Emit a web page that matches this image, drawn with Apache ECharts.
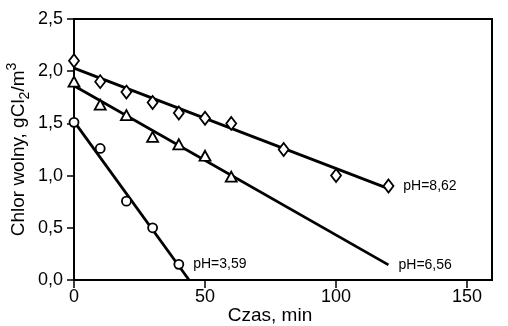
<!DOCTYPE html>
<html><head><meta charset="utf-8">
<script src="https://cdn.jsdelivr.net/npm/echarts@6/dist/echarts.min.js"></script>
<style>html,body{margin:0;padding:0;background:#fff}#c{width:508px;height:326px}</style>
</head><body><div id="c"></div>
<script>
// measured points (time, min ; free chlorine, gCl2/m3)
const ph862 = [[0,2.1],[10,1.9],[20,1.8],[30,1.7],[40,1.6],[50,1.55],[60,1.5],[80,1.25],[100,1.0],[120,0.9]];
const ph656 = [[0,1.9],[10,1.68],[20,1.58],[30,1.37],[40,1.3],[50,1.19],[60,0.99]];
const ph359 = [[0,1.51],[10,1.26],[20,0.755],[30,0.5],[40,0.15]];
// fitted lines (endpoints)
const fit862 = [[0,2.03],[120,0.875]];
const fit656 = [[0,1.86],[120,0.145]];
const fit359 = [[0,1.52],[43.9,0]];
const labels = ['pH=8,62','pH=6,56','pH=3,59'];
const xTicks = [0,50,100,150];
const yTicks = [0,0.5,1.0,1.5,2.0,2.5];

const FONT = 'Liberation Sans, Arial, sans-serif';
const lblStyle = {color:'#000', fontSize:14, fontFamily:FONT, fontWeight:'normal', textBorderWidth:0, textBorderColor:'transparent', textShadowBlur:0, opacity:1};
function lastLabel(arr, text){
  return arr.map((p,i)=> i===arr.length-1 ? {value:p, label:Object.assign({show:true, position:'right', distance:9, formatter:text}, lblStyle)} : {value:p});
}
const chart = echarts.init(document.getElementById('c'), null, {renderer:'canvas'});
const lineStyle = {color:'#000', width:2.8};
const mk = {color:'#fff', borderColor:'#000', borderWidth:1.8, opacity:1};
chart.setOption({
  animation:false,
  backgroundColor:'#fff',
  grid:{left:74, top:19, right:16, bottom:46, show:true, borderColor:'#000', borderWidth:2, backgroundColor:'transparent',
    containLabel:false, outerBoundsMode:'none'},
  xAxis:{type:'value', min:0, max:159.5, interval:50,
    name:'Czas, min', nameLocation:'middle', nameGap:26, nameMoveOverlap:false,
    nameTextStyle:{fontSize:19, fontFamily:FONT, color:'#000', padding:[0,26,0,0]},
    axisLine:{show:true, lineStyle:{color:'#000', width:2}},
    axisTick:{show:true, inside:false, length:8, lineStyle:{color:'#000', width:1.5}},
    axisLabel:{fontSize:18, fontFamily:FONT, color:'#000', margin:8, showMaxLabel:false,
      formatter:v=> xTicks.includes(v) ? String(v) : ''},
    splitLine:{show:false}},
  yAxis:{type:'value', min:0, max:2.5, interval:0.5,
    name:'{a|Chlor wolny, gCl}{sub|2}{a|/m}{sup|3}', nameLocation:'middle', nameGap:42, nameMoveOverlap:false,
    nameTextStyle:{fontSize:19, fontFamily:FONT, color:'#000',
      rich:{a:{fontSize:19, fontFamily:FONT, color:'#000', lineHeight:27, verticalAlign:'middle'},
            sub:{fontSize:14, fontFamily:FONT, color:'#000', lineHeight:27, verticalAlign:'bottom'},
            sup:{fontSize:14, fontFamily:FONT, color:'#000', lineHeight:27, verticalAlign:'top'}}},
    axisLine:{show:true, lineStyle:{color:'#000', width:2}},
    axisTick:{show:true, inside:false, length:7, lineStyle:{color:'#000', width:1.5}},
    axisLabel:{fontSize:18, fontFamily:FONT, color:'#000', margin:11,
      formatter:v=> v.toFixed(1).replace('.', ',')},
    splitLine:{show:false}},
  series:[
    {type:'line', data:fit862, symbol:'none', lineStyle, z:2},
    {type:'line', data:fit656, symbol:'none', lineStyle, z:2,
      endLabel:Object.assign({show:true, distance:10, formatter:labels[1]}, lblStyle)},
    {type:'line', data:fit359, symbol:'none', lineStyle, z:2},
    {type:'scatter', data:lastLabel(ph862, labels[0]), symbol:'diamond', symbolSize:[10,13], itemStyle:mk, z:3},
    {type:'scatter', data:ph656, symbol:'triangle', symbolSize:[11,10], itemStyle:mk, z:3},
    {type:'scatter', data:lastLabel(ph359, labels[2]), symbol:'circle', symbolSize:9, itemStyle:mk, z:3}
  ]
});
</script></body></html>
